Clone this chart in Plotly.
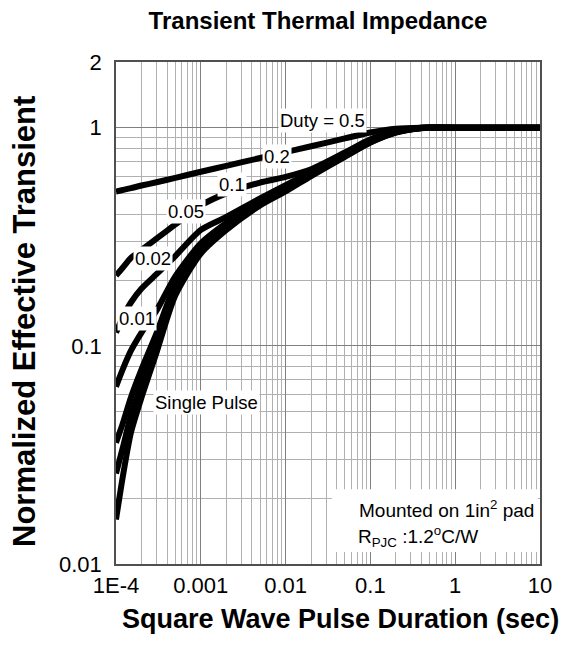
import numpy as np
import plotly.graph_objects as go

# ---- data ----
pulse_time = [1e-4, 1.2e-4, 1.5e-4, 2e-4, 3e-4, 5e-4, 1e-3, 2e-3, 5e-3, 0.01, 0.02, 0.05, 0.1, 0.2, 0.4, 1, 10]

z_single = [0.016, 0.025, 0.040, 0.058, 0.093, 0.170, 0.265, 0.340, 0.440, 0.510, 0.600, 0.735, 0.855, 0.950, 0.995, 1.0, 1.0]
z_d001 = [0.026, 0.034, 0.048, 0.067, 0.103, 0.180, 0.273, 0.348, 0.447, 0.517, 0.606, 0.740, 0.858, 0.952, 0.996, 1.0, 1.0]
z_d002 = [0.036, 0.044, 0.058, 0.078, 0.114, 0.190, 0.282, 0.356, 0.454, 0.524, 0.612, 0.745, 0.861, 0.954, 0.997, 1.0, 1.0]
z_d005 = [0.065, 0.078, 0.095, 0.115, 0.145, 0.208, 0.295, 0.366, 0.462, 0.532, 0.619, 0.751, 0.865, 0.956, 0.997, 1.0, 1.0]
z_d010 = [0.115, 0.135, 0.158, 0.183, 0.213, 0.258, 0.340, 0.390, 0.474, 0.545, 0.628, 0.758, 0.870, 0.958, 0.998, 1.0, 1.0]
z_d020 = [0.210, 0.228, 0.253, 0.275, 0.310, 0.360, 0.440, 0.500, 0.560, 0.595, 0.645, 0.770, 0.885, 0.965, 1.0, 1.0, 1.0]
z_d050 = [0.510, 0.518, 0.528, 0.543, 0.562, 0.589, 0.628, 0.668, 0.726, 0.772, 0.822, 0.893, 0.950, 0.990, 1.0, 1.0, 1.0]

series = [z_d050, z_d020, z_d010, z_d005, z_d002, z_d001, z_single]

label_text = ["Duty = 0.5", "0.2", "0.1", "0.05", "0.02", "0.01", "Single Pulse"]
label_x = [0.0269, 7.9e-3, 2.33e-3, 6.69e-4, 2.73e-4, 1.77e-4, 1.18e-3]
label_y = [1.077, 0.736, 0.548, 0.412, 0.251, 0.133, 0.0548]

x_tickvals = [1e-4, 1e-3, 1e-2, 1e-1, 1, 10]
x_ticktext = ["1E-4", "0.001", "0.01", "0.1", "1", "10"]
y_tickvals = [0.01, 0.1, 1, 2]
y_ticktext = ["0.01", "0.1", "1", "2"]

FONT = "Liberation Sans, Arial, sans-serif"

fig = go.Figure()
for s in series:
    fig.add_trace(go.Scatter(x=pulse_time, y=s, mode="lines",
                             line=dict(color="black", width=6, shape="spline", smoothing=0.7),
                             showlegend=False, hoverinfo="skip"))

for t, lx, ly in zip(label_text, label_x, label_y):
    fig.add_annotation(x=np.log10(lx), y=np.log10(ly), xref="x", yref="y",
                       text=t, showarrow=False, bgcolor="white", borderpad=1,
                       font=dict(family=FONT, size=18.5, color="black"))

# note box
fig.add_shape(type="rect", xref="paper", yref="paper", x0=0.509, x1=0.995, y0=0.024, y1=0.149,
              fillcolor="white", line=dict(width=0), layer="above")
fig.add_annotation(xref="paper", yref="paper", x=0.569, y=0.1096, xanchor="left", yanchor="middle",
                   text="Mounted on 1in<sup>2</sup> pad", showarrow=False,
                   font=dict(family=FONT, size=19, color="black"))
fig.add_annotation(xref="paper", yref="paper", x=0.567, y=0.054, xanchor="left", yanchor="middle",
                   text="R<sub>PJC</sub> :1.2<sup>o</sup>C/W", showarrow=False,
                   font=dict(family=FONT, size=19, color="black"))

# axis titles
fig.add_annotation(xref="paper", yref="paper", x=(340 - 116) / 424, y=(564 - 619) / 502,
                   xanchor="center", yanchor="middle", showarrow=False,
                   text="<b>Square Wave Pulse Duration (sec)</b>",
                   font=dict(family=FONT, size=27, color="black"))
fig.add_annotation(xref="paper", yref="paper", x=(24 - 116) / 424, y=(564 - 322) / 502,
                   xanchor="center", yanchor="middle", showarrow=False, textangle=-90,
                   text="<b>Normalized Effective Transient</b>",
                   font=dict(family=FONT, size=31, color="black"))

fig.update_layout(
    width=584, height=647,
    margin=dict(l=116, r=44, t=62, b=83),
    paper_bgcolor="white", plot_bgcolor="white",
    title=dict(text="<b>Transient Thermal Impedance</b>", x=318/584, xanchor="center",
               y=1 - 21/647, yanchor="middle",
               font=dict(family=FONT, size=24, color="black")),
    showlegend=False,
)
fig.update_xaxes(type="log", range=[-4, 1], tickvals=x_tickvals, ticktext=x_ticktext,
                 showgrid=True, gridcolor="#808080", gridwidth=1,
                 minor=dict(showgrid=True, gridcolor="#b0b0b0", gridwidth=1, dtick="D1"),
                 showline=True, linecolor="#505050", linewidth=1.5, mirror=True,
                 ticks="", tickfont=dict(family=FONT, size=22, color="black"),
                 ticklabelstandoff=1, zeroline=False)
fig.update_yaxes(type="log", range=[-2, np.log10(2)], tickvals=y_tickvals, ticktext=y_ticktext,
                 showgrid=True, gridcolor="#808080", gridwidth=1,
                 minor=dict(showgrid=True, gridcolor="#b0b0b0", gridwidth=1, dtick="D1"),
                 showline=True, linecolor="#505050", linewidth=1.5, mirror=True,
                 ticks="", tickfont=dict(family=FONT, size=22, color="black"),
                 ticklabelstandoff=8, zeroline=False)

fig.write_html("out.html")
